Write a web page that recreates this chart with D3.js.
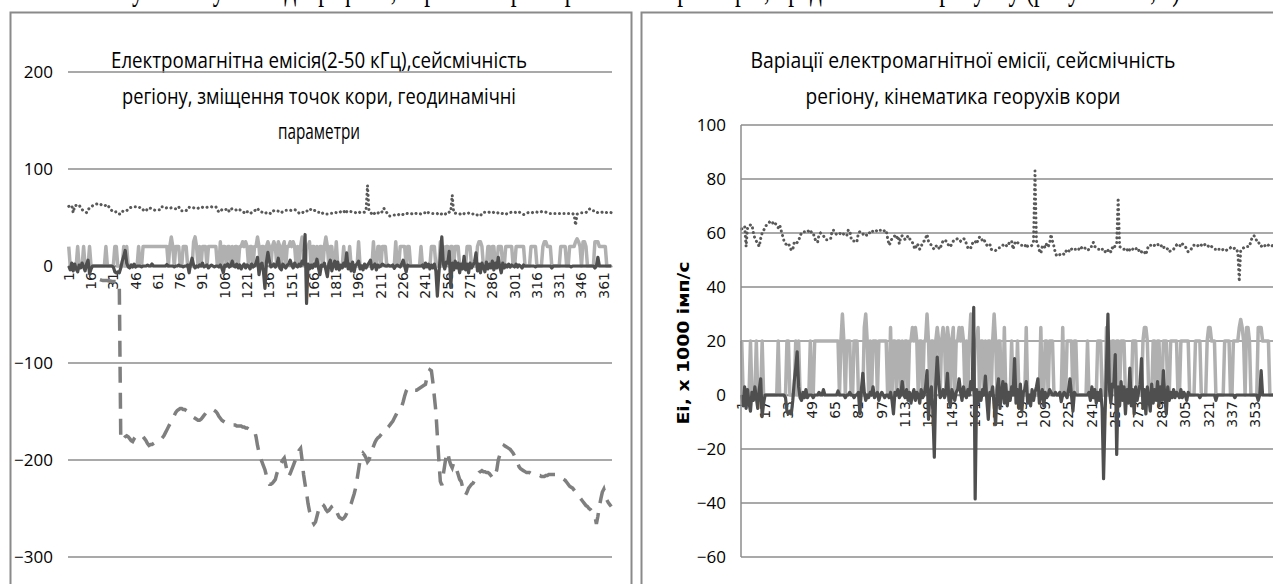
<!DOCTYPE html>
<html>
<head>
<meta charset="utf-8">
<script src="https://cdn.jsdelivr.net/npm/d3@7"></script>
<style>
  body { margin: 0; background: #fff; }
  svg { display: block; }
</style>
</head>
<body>
<div id="chart"></div>
<script>
// emission (dotted), 1000 imp/s
const emission = [
  61.5,62,62.5,55,62,62.5,63,63,60,58,
  57,56,55,58,60,61,62,63,63.5,64,
  63.5,64,63,63.5,63,62,63,61,59,57,
  56,55.5,56,55,53.5,54,56.5,56,56.5,57,
  59,60,60.5,60.5,61,61,60.5,61,60,60,
  58,57,56.5,59.5,60,59.5,59,58,57.5,57.5,
  58,58,61,61,60,59.5,60,60,59.5,60,
  59.5,59,59,61,61,58,57,57,56.5,57,
  60,60.5,60,59.5,60,59.5,59,59.5,60.5,61,
  60.5,61,61,60.5,61,61,61,60.5,61,61,
  58,55.5,56.5,58,58.5,59,58,59,56,58.5,
  59,58.5,57.5,58,59,58,57,56.5,55,54,
  56,55.5,54,55,56.5,57,58,59.5,57,56,
  55.5,54.5,54,55,55.5,54.5,54,56,57,57.5,
  57,56.5,55,55,56,57,57.5,57.5,58,57.5,
  57,57.5,58,57.5,56,54.5,54,54.5,56,57,
  57,56,57.5,58.5,58.5,57,57.5,56.5,55.5,55.5,
  56,54,53.5,53.5,53.5,54,54.5,54.5,55,55.5,
  55,55.5,55,56,57,57,54,56,57,56.5,
  56,55.5,55.5,55,55,56,55,55,55,55.5,
  57,83,57,55.5,53.5,52.5,55,55.5,54.5,56,
  55,56,59.5,57,55,52.5,51.5,51.5,52,52.5,
  52.5,52,53,54,53.5,53,54,54.5,54,54,
  53.5,54,55,54.5,54,54.5,54,53.5,54,55,
  55,56.5,55,54.5,54,54,53.5,54,54,53,
  54,53.5,54,53,54.5,54,55.5,56,73,55,
  54.5,54,54,53.5,54,53,54,53.5,54,54.5,
  54,54.5,53.5,54,53,52.5,53,52,54,55.5,
  55.5,55.5,55,55.5,56,56,55,55,55.5,54.5,
  55,54.5,54,53,53.5,54,54,55,55.5,55,
  55.5,55,56,55.5,55,54,53,53.5,54,55,
  55.5,55.5,55,55.5,56,55.5,55,55.5,56,55.5,
  55,55.5,55,54.5,54,54,53.5,54,54,53.5,
  54,54,53.5,54,54,54.5,54,54,54.5,54,
  53,42,53.5,54,54.5,55,55,55,55,57,
  58.5,59,58.5,57,57,55.5,55,55.5,55,55.5,
  55,55.5,55,55,55.5,55
];

// light grey series
const pulses = [
  20,0,0,0,0,0,20,0,0,0,
  20,0,0,0,20,0,0,0,0,0,
  0,0,0,0,0,20,0,0,0,0,
  0,20,20,0,0,0,0,20,0,20,
  0,0,0,0,0,0,0,20,0,0,
  20,20,20,20,20,20,20,20,20,20,
  20,20,20,20,20,20,20,0,20,30,
  20,0,20,20,20,0,0,20,20,20,
  0,0,0,0,25,30,20,0,20,0,
  20,20,20,0,20,20,20,20,20,20,
  0,0,25,0,20,20,0,20,20,0,
  20,0,20,20,0,20,20,25,20,25,
  20,0,20,20,0,20,20,30,20,0,
  20,20,0,20,25,20,0,20,25,20,
  0,25,20,0,20,25,0,20,20,25,
  20,25,20,0,20,0,20,30,20,0,
  20,20,25,0,20,20,0,20,0,20,
  20,0,20,30,20,0,20,20,0,0,
  25,0,0,0,0,20,0,0,0,20,
  0,0,0,0,0,25,0,0,0,0,
  0,0,0,0,0,25,0,0,20,20,
  0,20,20,20,0,0,0,0,0,0,
  25,0,0,20,20,20,20,0,20,20,
  0,0,0,0,0,0,0,20,0,0,
  0,0,0,0,20,20,20,0,0,0,
  25,0,20,0,20,20,0,20,20,0,
  20,20,20,0,0,0,0,0,20,20,
  20,0,0,0,0,20,25,25,20,0,
  0,0,20,20,0,20,20,0,0,20,
  20,20,0,0,20,20,20,20,20,0,
  0,20,20,20,20,20,20,0,0,0,
  0,20,20,20,20,0,0,0,0,20,
  25,25,20,20,20,0,0,0,0,0,
  0,20,20,20,20,0,0,20,20,20,
  20,25,28,25,20,0,25,25,20,0,
  0,0,0,0,25,25,25,20,20,20,
  20,20,0,0,0,0
];

// dark series (seismicity)
const seismic = [
  0,-4,3,-5,2,-3,-6,1,-2,3,
  -1,-5,2,6,-8,-3,0,0,0,0,
  0,0,0,0,0,0,0,0,0,0,
  -1,-6,-7,-6,-7,-2,5,10,16,3,
  -1,-2,1,-1,2,-1,0,0,0,-1,
  0,0,0,1,0,0,2,0,0,0,
  0,0,0,0,0,0,1.5,0,0,0,
  0,-1,0,0,1,0,0,-1,0,0,
  1,-7,2,8,1,-2,0,-1,1,0,
  3,-1,0,1,-2,0,1,0,-1,0,
  0,-1,1,-2,-7,1,0,2,-1,0,
  5,0,-1,2,-2,1,-3,0,2,-2,
  1,0,-3,2,-1,0,3,9,-9,1,
  3,-6,-23,4,14,5,-1,0,2,-1,
  1,8,-2,-4,2,0,-2,1,2,6,
  1,-2,3,0,-1,2,0,5,2,32.5,
  -38.5,2,-3,1,-2,2,0,7,-2,-9,
  1,0,3,-4,-11,2,6,-5,1,5,
  -3,4,-4,1,-2,3,0,13.5,-3,2,
  -5,4,-6,1,2,5,-3,0,-4,2,
  -2,1,3,6,-3,0,2,-4,1,-1,
  0,2,1,0,0,1,0,0,1,-2.5,
  0,1,0,-1,2,6,0,-6,1,0,
  0,0,0,0,0,0,0,0,1,-2,
  3,-1,2,-3,1,-2,2,-5,-31,-8,
  10,30,2,-3,4,3,15,-22,3,-4,
  5,-2,3,-7,2,-3,10,-4,2,-7,
  3,-2,1,4,13.5,-5,2,-7,3,-1,
  -6,4,-3,2,-2,5,-4,3,-2,9,
  -1,-7,3,-2,1,-1,2,-1,1,0,
  -1,2,-1,1,0,-2,1,0,0,0,
  0,0,0,0,-1,0,0,0,0,0,
  0,0,0,0,0,-2,0,0,0,0,
  0,0,0,0,0,0,0,0,-1,0,
  0,0,0,0,0,0,0,0,0,0,
  0,0,0,0,-2,0,9,0,0,0,
  0,0,0,0,0,0
];

// crust displacement (dashed, left chart only)
const displacement = [
  null,null,null,null,null,null,null,null,null,null,
  null,null,null,null,null,null,null,null,null,null,
  null,-14,-14.5,-15,-15,-15,-15,-15.5,-15.5,-16,
  -16,-16,-16,-16.5,-17,-178,-180,-178,-176,-175,
  -176,-178,-180,-181,-178,-176,-175,-175,-174,-175,
  -176,-178,-180,-183,-185,-184,-184,-183,-182,-181,
  -180,-180,-179,-177,-175,-172,-169,-166,-163,-160,
  -157,-154,-151,-149,-148,-147,-147,-148,-148,-149,
  -150,-151,-153,-155,-156,-157,-158,-159,-159,-158,
  -156,-154,-152,-150,-149,-149,-149,-148,-149,-150,
  -152,-155,-157,-159,-160,-161,-162,-163,-163,-164,
  -164,-164,-164,-165,-165,-165,-165,-166,-166,-167,
  -167,-168,-168,-169,-169,-170,-176,-185,-192,-198,
  -202,-206,-210,-216,-222,-225,-225,-224,-222,-220,
  -214,-210,-206,-203,-200,-198,-205,-212,-217,-214,
  -210,-206,-202,-198,-194,-190,-188,-200,-215,-225,
  -234,-245,-253,-258,-263,-266,-264,-258,-252,-248,
  -245,-246,-248,-251,-253,-252,-250,-248,-247,-247,
  -252,-256,-259,-260,-261,-260,-258,-255,-251,-248,
  -245,-240,-235,-229,-220,-210,-200,-196,-193,-195,
  -198,-202,-200,-195,-190,-186,-182,-179,-177,-176,
  -174,-172,-170,-169,-167,-166,-164,-162,-160,-157,
  -154,-151,-149,-147,-145,-140,-134,-129,-126,-126,
  -127,-127,-128,-128,-128,-127,-126,-125,-124,-123,
  -122,-115,-110,-107,-108,-120,-135,-150,-175,-200,
  -222,-226,-215,-205,-195,-192,-200,-205,-208,-203,
  -205,-210,-215,-220,-222,-228,-234,-236,-233,-229,
  -227,-225,-224,-221,-218,-215,-213,-212,-211,-212,
  -212,-213,-213,-214,-216,-218,-219,-215,-210,-200,
  -195,-191,-188,-185,-186,-187,-188,-189,-191,-193,
  -196,-199,-203,-207,-209,-210,-211,-212,-213,-213,
  -213,-214,-214,-214,-215,-215,-216,-216,-217,-217,
  -217,-216,-216,-215,-215,-215,-215,-215,-215,-216,
  -217,-218,-219,-220,-221,-223,-225,-227,-228,-229,
  -231,-233,-235,-237,-239,-241,-243,-245,-247,-248,
  -250,-251,-253,-255,-258,-266,-258,-248,-240,-233,
  -230,-236,-241,-244,-246,-248
];

const days = d3.range(1, emission.length + 1);
const leftTicks = [1,16,31,46,61,76,91,106,121,136,151,166,181,196,211,226,241,256,271,286,301,316,331,346,361];
const rightTicks = [1,17,33,49,65,81,97,113,129,145,161,177,193,209,225,241,257,273,289,305,321,337,353];
const leftYTicks = [200,100,0,-100,-200,-300];
const rightYTicks = [100,80,60,40,20,0,-20,-40,-60];

const leftTitle = ["Електромагнітна емісія(2-50 кГц),сейсмічність",
                   "регіону, зміщення точок кори, геодинамічні",
                   "параметри"];
const rightTitle = ["Варіації електромагнітної емісії, сейсмічність",
                    "регіону, кінематика георухів кори"];
const yTitle = "Ei, x 1000 імп/с";
const pageLine = "Результати у вигляді графіків, отримані при порівнянні параметрів, представлені на рисунку (рисунок 3.2, а)";

const W = 1273, H = 584;
const gridColor = "#8c8c8c";
const titleFont = "'Liberation Sans Narrow', 'Open Sans', sans-serif";

const svg = d3.select("#chart")
  .append("svg")
    .attr("width", W)
    .attr("height", H);

// only the bottom of the page line above the charts is visible
svg.append("text")
  .attr("x", 100)
  .attr("y", 0)
  .attr("textLength", 1080)
  .attr("lengthAdjust", "spacingAndGlyphs")
  .style("font-family", "'Liberation Serif', serif")
  .style("font-size", "34px")
  .text(pageLine);

// chart frames
svg.append("rect")
  .attr("x", 10.5).attr("y", 12.5)
  .attr("width", 621).attr("height", 620)
  .attr("fill", "#fff").attr("stroke", "#8a8a8a").attr("stroke-width", 2);
svg.append("rect")
  .attr("x", 641.5).attr("y", 12.5)
  .attr("width", 700).attr("height", 620)
  .attr("fill", "#fff").attr("stroke", "#8a8a8a").attr("stroke-width", 2);

function drawTitle(lines, cx, ys, lens) {
  lines.forEach(function(t, i) {
    svg.append("text")
      .attr("x", cx)
      .attr("y", ys[i])
      .attr("text-anchor", "middle")
      .attr("textLength", lens[i])
      .attr("lengthAdjust", "spacingAndGlyphs")
      .style("font-family", titleFont)
      .style("font-size", "21px")
      .style("fill", "#000")
      .text(t);
  });
}

function drawPlot(g, x, y, yTicks, xTicks, series) {
  // gridlines
  g.selectAll("line.grid")
    .data(yTicks)
    .enter()
    .append("line")
      .attr("class", "grid")
      .attr("x1", x.range()[0])
      .attr("x2", x.range()[1])
      .attr("y1", d => y(d))
      .attr("y2", d => y(d))
      .attr("stroke", gridColor)
      .attr("stroke-width", 1.5);

  // y labels
  const ya = g.append("g")
    .attr("transform", `translate(${x.range()[0]},0)`)
    .call(d3.axisLeft(y).tickValues(yTicks).tickSize(0).tickPadding(15));
  ya.select(".domain").remove();
  ya.selectAll("text")
    .style("font-family", titleFont)
    .style("font-size", "17px")
    .style("fill", "#000");

  const cx = d => x(d) + x.bandwidth() / 2;

  // x labels, next to the zero line
  const xa = g.append("g")
    .attr("transform", `translate(0,${y(0)})`)
    .call(d3.axisBottom(x).tickValues(xTicks).tickSize(0));
  xa.select(".domain").attr("stroke", gridColor).attr("stroke-width", 1.5);
  xa.selectAll("text")
    .attr("transform", "rotate(-90)")
    .attr("x", -6)
    .attr("y", 0)
    .attr("dy", "0.35em")
    .style("text-anchor", "end")
    .style("font-family", "'DejaVu Sans', sans-serif")
    .style("font-size", "14px")
    .style("fill", "#222");

  // dotted emission
  g.append("path")
    .datum(series.emission)
    .attr("fill", "none")
    .attr("stroke", "#595959")
    .attr("stroke-width", 3)
    .attr("stroke-linecap", "round")
    .attr("stroke-dasharray", "0.1,4.6")
    .attr("d", d3.line()
      .x((d, i) => cx(days[i]))
      .y(d => y(d)));

  // light grey pulses
  g.append("path")
    .datum(series.pulses)
    .attr("fill", "none")
    .attr("stroke", "#b0b0b0")
    .attr("stroke-width", 3.5)
    .attr("stroke-linejoin", "round")
    .attr("d", d3.line()
      .x((d, i) => cx(days[i]))
      .y(d => y(d)));

  // dark seismicity
  g.append("path")
    .datum(series.seismic)
    .attr("fill", "none")
    .attr("stroke", "#4f4f4f")
    .attr("stroke-width", 3.2)
    .attr("stroke-linejoin", "round")
    .attr("d", d3.line()
      .x((d, i) => cx(days[i]))
      .y(d => y(d)));

  // dashed displacement
  if (series.displacement) {
    g.append("path")
      .datum(series.displacement)
      .attr("fill", "none")
      .attr("stroke", "#7f7f7f")
      .attr("stroke-width", 3.5)
      .attr("stroke-dasharray", "16,10")
      .attr("d", d3.line()
        .defined(d => d != null)
        .x((d, i) => cx(days[i]))
        .y(d => y(d)));
  }
}

// left chart
const xL = d3.scaleBand().domain(days).range([68, 612]).padding(0);
const yL = d3.scaleLinear().domain([-300, 200]).range([557, 72]);
drawTitle(leftTitle, 319, [68, 104, 139], [416, 394, 82]);
drawPlot(svg.append("g"), xL, yL, leftYTicks, leftTicks,
  {emission: emission, pulses: pulses, seismic: seismic, displacement: displacement});

// right chart
const xR = d3.scaleBand().domain(days).range([741, 1275]).padding(0);
const yR = d3.scaleLinear().domain([-60, 100]).range([557, 125]);
drawTitle(rightTitle, 963, [68, 104], [425, 315]);
const gR = svg.append("g");
drawPlot(gR, xR, yR, rightYTicks, rightTicks,
  {emission: emission, pulses: pulses, seismic: seismic});
gR.append("line")
  .attr("x1", 741).attr("x2", 741)
  .attr("y1", yR(100)).attr("y2", yR(-60))
  .attr("stroke", gridColor).attr("stroke-width", 1.5);

svg.append("text")
  .attr("transform", "translate(684,343) rotate(-90)")
  .attr("text-anchor", "middle")
  .attr("dy", "0.35em")
  .attr("textLength", 163)
  .attr("lengthAdjust", "spacingAndGlyphs")
  .style("font-family", "'DejaVu Sans', sans-serif")
  .style("font-weight", "bold")
  .style("font-size", "15px")
  .text(yTitle);
</script>
</body>
</html>
